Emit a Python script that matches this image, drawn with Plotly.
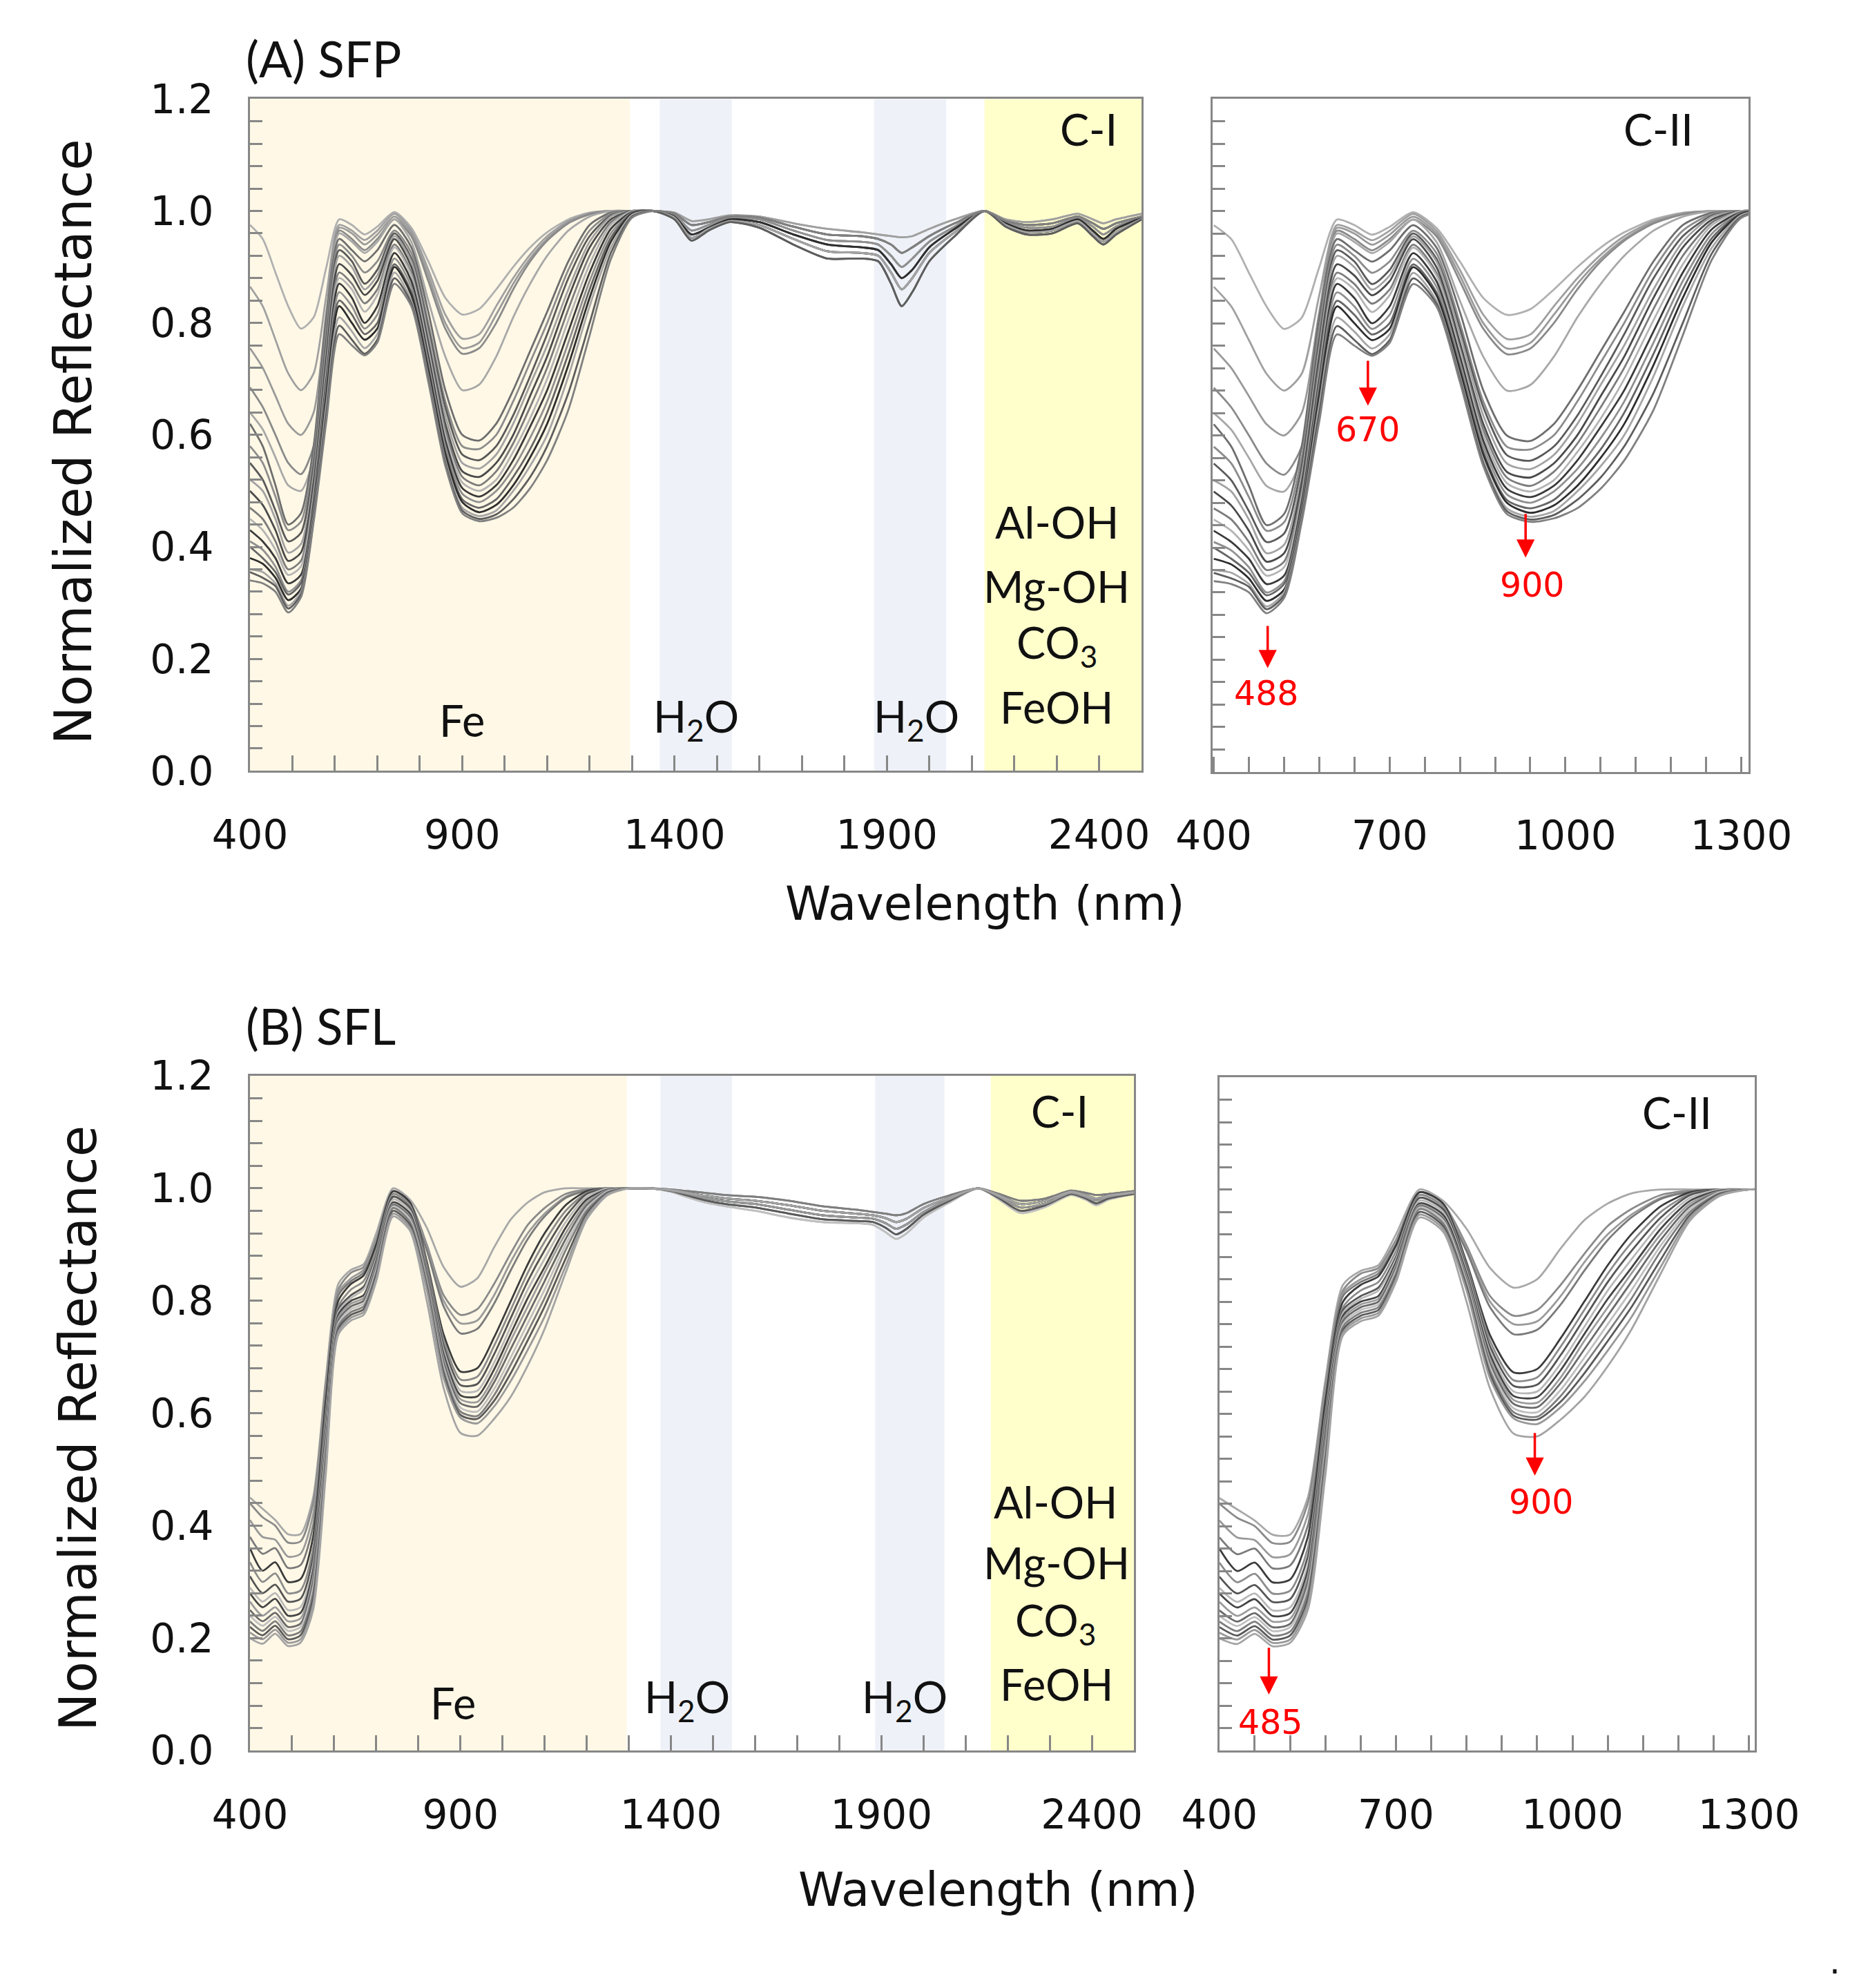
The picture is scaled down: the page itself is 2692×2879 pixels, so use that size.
import plotly.graph_objects as go

wl_vnir = [400, 430, 460, 490, 520, 550, 580, 610, 640, 670, 700, 740, 780,
           820, 860, 900, 940, 980, 1020, 1060, 1100, 1150, 1200, 1250, 1300]
wl_swir = [1350, 1400, 1440, 1480, 1530, 1600, 1680, 1760, 1840, 1880, 1910,
           1935, 1960, 2000, 2060, 2130, 2180, 2230, 2290, 2350, 2385, 2410,
           2440, 2500]

# (A) SFP, 400-1300 nm part of each spectrum
sfp_01 = [.975, .95, .89, .83, .79, .81, .90, .985, .975, .958, .972, .998, .97, .91, .845, .815, .825, .86, .90, .935, .962, .985, .997, 1.0, 1.0]
sfp_02 = [.865, .83, .77, .71, .68, .71, .85, .975, .965, .948, .965, .995, .965, .895, .815, .772, .78, .83, .88, .922, .955, .982, .996, 1.0, 1.0]
sfp_03 = [.755, .72, .67, .62, .60, .64, .82, .97, .96, .94, .958, .99, .96, .885, .80, .755, .765, .815, .87, .915, .95, .98, .995, 1.0, 1.0]
sfp_04 = [.685, .65, .60, .55, .53, .58, .79, .965, .95, .93, .95, .985, .955, .875, .79, .745, .755, .80, .86, .91, .947, .978, .994, 1.0, 1.0]
sfp_05 = [.64, .61, .56, .51, .50, .56, .78, .96, .945, .925, .945, .985, .945, .84, .74, .68, .69, .74, .81, .87, .92, .965, .99, 1.0, 1.0]
sfp_06 = [.62, .58, .51, .44, .46, .58, .81, .95, .93, .91, .93, .975, .935, .82, .68, .60, .59, .62, .68, .75, .82, .91, .975, .997, 1.0]
sfp_07 = [.58, .55, .49, .43, .445, .56, .79, .94, .92, .89, .91, .965, .925, .80, .66, .58, .575, .60, .66, .73, .80, .895, .965, .995, 1.0]
sfp_08 = [.55, .52, .465, .41, .425, .545, .77, .93, .91, .87, .895, .96, .915, .79, .65, .565, .555, .58, .635, .705, .78, .88, .955, .992, 1.0]
sfp_09 = [.52, .50, .45, .39, .405, .53, .755, .92, .90, .86, .885, .955, .91, .78, .635, .55, .54, .565, .62, .69, .76, .86, .945, .99, 1.0]
sfp_10 = [.50, .475, .43, .375, .39, .515, .74, .905, .885, .85, .875, .95, .90, .765, .62, .535, .525, .55, .60, .67, .74, .845, .935, .985, 1.0]
sfp_11 = [.47, .45, .41, .36, .375, .50, .725, .89, .87, .835, .86, .94, .89, .755, .61, .525, .51, .535, .585, .65, .72, .825, .92, .98, 1.0]
sfp_12 = [.45, .43, .395, .35, .365, .49, .71, .88, .86, .82, .85, .935, .885, .75, .60, .515, .50, .52, .57, .63, .70, .805, .905, .975, 1.0]
sfp_13 = [.43, .41, .38, .335, .35, .48, .70, .87, .845, .80, .83, .925, .875, .74, .59, .505, .49, .51, .555, .615, .68, .785, .89, .968, .998]
sfp_14 = [.41, .395, .365, .32, .34, .47, .69, .855, .83, .79, .815, .915, .865, .73, .58, .495, .48, .50, .54, .595, .66, .765, .875, .96, .997]
sfp_15 = [.40, .38, .355, .315, .335, .465, .68, .84, .815, .78, .80, .905, .855, .72, .57, .485, .47, .485, .525, .575, .64, .745, .86, .952, .996]
sfp_16 = [.38, .37, .345, .305, .325, .46, .67, .83, .80, .77, .79, .90, .85, .715, .565, .48, .462, .475, .51, .56, .62, .725, .845, .945, .995]
sfp_17 = [.36, .355, .335, .295, .32, .455, .655, .81, .785, .755, .78, .89, .84, .705, .555, .47, .455, .465, .50, .545, .60, .705, .83, .935, .993]
sfp_18 = [.355, .345, .33, .29, .315, .45, .64, .795, .77, .745, .77, .88, .835, .70, .55, .465, .45, .458, .485, .525, .58, .675, .80, .925, .99]
sfp_19 = [.34, .335, .32, .283, .31, .445, .625, .78, .76, .742, .765, .87, .83, .695, .545, .46, .446, .452, .47, .505, .555, .645, .778, .914, .988]

# (A) SFP, 1350-2500 nm shapes (the SWIR part is tightly bunched)
sfp_swir_1 = [1.0, .997, .982, .985, .992, .99, .978, .968, .962, .958, .955, .953, .955, .968, .985, 1.0, .985, .98, .985, .995, .985, .978, .985, .995]
sfp_swir_2 = [1.0, .995, .975, .98, .99, .988, .972, .958, .955, .95, .94, .925, .935, .955, .978, 1.0, .982, .975, .978, .99, .978, .968, .978, .99]
sfp_swir_3 = [1.0, .993, .965, .975, .988, .985, .965, .948, .945, .94, .92, .90, .915, .945, .972, 1.0, .98, .97, .972, .988, .972, .958, .972, .99]
sfp_swir_4 = [1.0, .99, .958, .97, .985, .98, .958, .94, .935, .93, .905, .88, .895, .935, .968, 1.0, .978, .965, .968, .985, .965, .95, .968, .988]
sfp_swir_5 = [1.0, .988, .952, .968, .982, .975, .95, .928, .925, .92, .89, .86, .88, .925, .962, 1.0, .975, .962, .965, .982, .96, .945, .962, .986]
sfp_swir_6 = [1.0, .985, .947, .965, .98, .97, .94, .915, .915, .91, .87, .83, .855, .91, .955, 1.0, .972, .958, .96, .978, .955, .94, .958, .985]

# (B) SFL, 400-1300 nm part of each spectrum
sfl_01 = [.45, .43, .41, .385, .385, .45, .66, .83, .855, .865, .92, 1.0, .98, .93, .86, .825, .84, .895, .945, .975, .993, 1.0, 1.0, 1.0, 1.0]
sfl_02 = [.44, .415, .40, .37, .372, .44, .65, .82, .85, .86, .91, .995, .975, .90, .81, .775, .785, .83, .885, .935, .965, .99, .998, 1.0, 1.0]
sfl_03 = [.41, .38, .375, .345, .35, .42, .64, .815, .84, .855, .905, .99, .97, .895, .80, .76, .765, .81, .87, .92, .955, .985, .997, 1.0, 1.0]
sfl_04 = [.38, .35, .36, .325, .33, .40, .63, .81, .835, .85, .90, .985, .965, .89, .79, .742, .75, .795, .855, .91, .95, .983, .996, 1.0, 1.0]
sfl_05 = [.36, .32, .335, .30, .305, .38, .62, .80, .83, .845, .90, .995, .975, .87, .74, .674, .68, .735, .80, .865, .92, .97, .995, 1.0, 1.0]
sfl_06 = [.335, .30, .315, .28, .285, .36, .60, .79, .82, .835, .89, .99, .97, .865, .73, .66, .665, .72, .785, .85, .905, .96, .992, 1.0, 1.0]
sfl_07 = [.31, .28, .295, .265, .27, .345, .585, .785, .81, .825, .88, .985, .965, .86, .72, .65, .652, .705, .77, .835, .89, .95, .99, 1.0, 1.0]
sfl_08 = [.29, .265, .28, .25, .255, .33, .575, .78, .805, .82, .875, .98, .96, .855, .712, .64, .64, .69, .755, .82, .875, .94, .985, 1.0, 1.0]
sfl_09 = [.28, .255, .27, .24, .245, .32, .565, .775, .80, .81, .87, .975, .955, .85, .705, .632, .63, .678, .742, .805, .86, .93, .98, .998, 1.0]
sfl_10 = [.265, .24, .255, .23, .235, .31, .555, .77, .795, .805, .865, .972, .95, .845, .698, .625, .62, .665, .73, .79, .85, .92, .975, .997, 1.0]
sfl_11 = [.25, .23, .245, .22, .226, .30, .545, .765, .79, .80, .86, .97, .948, .84, .69, .618, .612, .655, .715, .775, .835, .91, .97, .996, 1.0]
sfl_12 = [.24, .222, .238, .213, .22, .29, .535, .76, .785, .795, .855, .968, .945, .835, .683, .61, .603, .643, .70, .76, .82, .90, .965, .995, 1.0]
sfl_13 = [.23, .213, .23, .205, .212, .28, .525, .755, .78, .79, .85, .965, .94, .83, .676, .603, .595, .632, .687, .745, .805, .89, .96, .993, 1.0]
sfl_14 = [.22, .205, .222, .198, .205, .27, .515, .75, .775, .785, .845, .96, .935, .825, .67, .597, .59, .622, .672, .73, .79, .875, .955, .992, 1.0]
sfl_15 = [.21, .198, .215, .192, .198, .26, .505, .745, .77, .78, .84, .955, .93, .82, .663, .592, .582, .612, .658, .713, .772, .862, .95, .99, 1.0]
sfl_16 = [.20, .19, .208, .186, .192, .25, .49, .74, .765, .775, .835, .95, .925, .80, .645, .565, .56, .59, .63, .685, .75, .85, .945, .988, 1.0]

# (B) SFL, 1350-2500 nm shapes
sfl_swir_1 = [1.0, .998, .995, .992, .988, .985, .978, .968, .962, .958, .955, .952, .956, .972, .987, 1.0, .99, .978, .982, .996, .992, .988, .99, .995]
sfl_swir_2 = [1.0, .997, .992, .987, .982, .978, .97, .96, .955, .952, .947, .94, .946, .965, .983, 1.0, .987, .972, .978, .994, .988, .982, .987, .993]
sfl_swir_3 = [1.0, .996, .99, .983, .977, .972, .962, .952, .948, .946, .938, .928, .936, .958, .98, 1.0, .985, .966, .973, .992, .985, .978, .985, .992]
sfl_swir_4 = [1.0, .995, .987, .979, .972, .966, .955, .945, .942, .94, .93, .918, .928, .953, .977, 1.0, .982, .96, .97, .99, .982, .973, .982, .99]
sfl_swir_5 = [1.0, .994, .984, .975, .968, .96, .948, .94, .938, .935, .922, .91, .92, .948, .974, 1.0, .98, .956, .967, .988, .98, .97, .98, .99]

sfp_curves = [
    (sfp_01, sfp_swir_1), (sfp_02, sfp_swir_1), (sfp_03, sfp_swir_2),
    (sfp_04, sfp_swir_2), (sfp_05, sfp_swir_3), (sfp_06, sfp_swir_2),
    (sfp_07, sfp_swir_3), (sfp_08, sfp_swir_4), (sfp_09, sfp_swir_3),
    (sfp_10, sfp_swir_5), (sfp_11, sfp_swir_4), (sfp_12, sfp_swir_6),
    (sfp_13, sfp_swir_5), (sfp_14, sfp_swir_3), (sfp_15, sfp_swir_6),
    (sfp_16, sfp_swir_4), (sfp_17, sfp_swir_5), (sfp_18, sfp_swir_6),
    (sfp_19, sfp_swir_2),
]
sfl_curves = [
    (sfl_01, sfl_swir_1), (sfl_02, sfl_swir_2), (sfl_03, sfl_swir_1),
    (sfl_04, sfl_swir_3), (sfl_05, sfl_swir_2), (sfl_06, sfl_swir_4),
    (sfl_07, sfl_swir_3), (sfl_08, sfl_swir_5), (sfl_09, sfl_swir_2),
    (sfl_10, sfl_swir_4), (sfl_11, sfl_swir_3), (sfl_12, sfl_swir_5),
    (sfl_13, sfl_swir_1), (sfl_14, sfl_swir_4), (sfl_15, sfl_swir_3),
    (sfl_16, sfl_swir_2),
]

main_ticks = [400, 900, 1400, 1900, 2400]
zoom_ticks = [400, 700, 1000, 1300]
refl_ticks = [0.0, 0.2, 0.4, 0.6, 0.8, 1.0, 1.2]

# absorption regions shaded on the full-range panels (nm)
sfp_bands = [(400, 1295, "#fff8e6"), (1365, 1535, "#eef2f8"),
             (1870, 2040, "#eef2f8"), (2130, 2500, "#ffffcc")]
sfl_bands = [(400, 1295, "#fff8e6"), (1375, 1545, "#eef2f8"),
             (1885, 2050, "#eef2f8"), (2160, 2500, "#ffffcc")]

greys_a = ["#b0b0b0", "#a0a0a0", "#9a9a9a", "#8a8a8a", "#a8a8a8", "#6e6e6e",
           "#8c8c8c", "#5a5a5a", "#a2a2a2", "#4a4a4a", "#7c7c7c", "#b4b4b4",
           "#3a3a3a", "#909090", "#666666", "#2e2e2e", "#a6a6a6", "#5e5e5e",
           "#808080"]
greys_b = ["#a8a8a8", "#8a8a8a", "#9a9a9a", "#7a7a7a", "#3c3c3c", "#8c8c8c",
           "#555555", "#b8b8b8", "#444444", "#9c9c9c", "#6a6a6a", "#c0c0c0",
           "#7e7e7e", "#5a5a5a", "#999999", "#a4a4a4"]

AXIS_GREY = "#878787"
TICK_FONT = dict(family="DejaVu Sans", size=58, color="#111111")
LABEL_FONT = dict(family="Lato", size=63, color="#111111")
RED = "#ff0000"

wl_all = wl_vnir + wl_swir

fig = go.Figure()


def add_spectra(curves, greys, pairs):
    for k, (vnir, swir) in enumerate(curves):
        for xa, ya in pairs:
            fig.add_trace(go.Scatter(
                x=wl_all, y=vnir + swir, xaxis=xa, yaxis=ya, mode="lines",
                line=dict(color=greys[k], width=2.8, shape="spline", smoothing=0.7),
                hoverinfo="skip", showlegend=False))


add_spectra(sfp_curves, greys_a, [("x", "y"), ("x2", "y2")])
add_spectra(sfl_curves, greys_b, [("x3", "y3"), ("x4", "y4")])

shapes = []
for bands, xr, yr in ((sfp_bands, "x", "y"), (sfl_bands, "x3", "y3")):
    for lo, hi, col in bands:
        shapes.append(dict(type="rect", xref=xr, yref=yr, x0=lo, x1=hi, y0=0, y1=1.2,
                           fillcolor=col, line=dict(width=0), layer="below"))


def x_axis(domain, rng, ticks, minor_step, anchor):
    return dict(domain=domain, range=rng, anchor=anchor, automargin=False,
                tickmode="array", tickvals=ticks, ticktext=[str(t) for t in ticks],
                ticks="inside", ticklen=22, tickwidth=2.5, tickcolor=AXIS_GREY,
                minor=dict(tickmode="linear", tick0=400, dtick=minor_step, ticks="inside",
                           ticklen=22, tickwidth=2.5, tickcolor=AXIS_GREY),
                showline=True, linecolor=AXIS_GREY, linewidth=3, mirror=True,
                showgrid=False, zeroline=False, tickfont=TICK_FONT,
                ticklabelstandoff=40)


def y_axis(domain, anchor, labels=True):
    return dict(domain=domain, range=[0, 1.2], anchor=anchor, automargin=False,
                tickmode="array", tickvals=refl_ticks,
                ticktext=[f"{t:.1f}" for t in refl_ticks], showticklabels=labels,
                ticks="inside", ticklen=18, tickwidth=2.5, tickcolor=AXIS_GREY,
                minor=dict(tickmode="linear", tick0=0, dtick=0.04, ticks="inside",
                           ticklen=18, tickwidth=2.5, tickcolor=AXIS_GREY),
                showline=True, linecolor=AXIS_GREY, linewidth=3, mirror=True,
                showgrid=False, zeroline=False, tickfont=TICK_FONT,
                ticklabelstandoff=38)


ann = []


def note(text, x, y, xref, yref, font=LABEL_FONT, **kw):
    kw.setdefault("xanchor", "center")
    ann.append(dict(text=text, x=x, y=y, xref=xref, yref=yref, showarrow=False,
                    yanchor="middle", font=font, **kw))


def red_arrow(x, y_tail, y_head, xref, yref):
    ann.append(dict(text="", x=x, y=y_head, ax=x, ay=y_tail, xref=xref, yref=yref,
                    axref=xref, ayref=yref, showarrow=True, arrowhead=2,
                    arrowsize=1.5, arrowwidth=3.5, arrowcolor=RED))


red_font = dict(family="DejaVu Sans", size=49, color=RED)

# panel (A)
note("Fe", 900, 0.091, "x", "y")
note("H<sub>2</sub>O", 1450, 0.093, "x", "y")
note("H<sub>2</sub>O", 1970, 0.093, "x", "y")
note("Al-OH", 2300, 0.445, "x", "y")
note("Mg-OH", 2300, 0.331, "x", "y")
note("CO<sub>3</sub>", 2300, 0.225, "x", "y")
note("FeOH", 2300, 0.115, "x", "y")
note("C-I", 2375, 1.147, "x", "y")
note("C-II", 1159, 1.147, "x2", "y2")
red_arrow(492, 0.262, 0.185, "x2", "y2")
note("488", 490, 0.14, "x2", "y2", font=red_font)
red_arrow(663, 0.735, 0.653, "x2", "y2")
note("670", 663, 0.61, "x2", "y2", font=red_font)
red_arrow(932, 0.462, 0.382, "x2", "y2")
note("900", 944, 0.333, "x2", "y2", font=red_font)

# panel (B)
note("Fe", 882, 0.086, "x3", "y3")
note("H<sub>2</sub>O", 1438, 0.091, "x3", "y3")
note("H<sub>2</sub>O", 1955, 0.091, "x3", "y3")
note("Al-OH", 2313, 0.443, "x3", "y3")
note("Mg-OH", 2316, 0.335, "x3", "y3")
note("CO<sub>3</sub>", 2313, 0.227, "x3", "y3")
note("FeOH", 2316, 0.119, "x3", "y3")
note("C-I", 2323, 1.138, "x3", "y3")
note("C-II", 1178, 1.138, "x4", "y4")
red_arrow(936, 0.568, 0.49, "x4", "y4")
note("900", 947, 0.443, "x4", "y4", font=red_font)
red_arrow(484, 0.185, 0.10, "x4", "y4")
note("485", 487, 0.05, "x4", "y4", font=red_font)

# titles and axis names
title_font = dict(family="Lato", size=71, color="#111111")
axis_font = dict(family="DejaVu Sans", size=67, color="#111111")
yname_font = dict(family="DejaVu Sans", size=74, color="#111111")
note("(A) SFP", 0.1285, 0.9735, "paper", "paper", font=title_font, xanchor="left")
note("(B) SFL", 0.1285, 0.4868, "paper", "paper", font=title_font, xanchor="left")
note("Normalized Reflectance", 0.0365, 0.7805, "paper", "paper", font=yname_font, textangle=-90)
note("Normalized Reflectance", 0.0390, 0.2845, "paper", "paper", font=yname_font, textangle=-90)
note("Wavelength (nm)", 0.527, 0.548, "paper", "paper", font=axis_font)
note("Wavelength (nm)", 0.534, 0.052, "paper", "paper", font=axis_font)
note(".", 0.984, 0.016, "paper", "paper", font=dict(family="DejaVu Sans", size=50, color="#111111"))

fig.update_layout(
    width=2692, height=2879, margin=dict(l=0, r=0, t=0, b=0, autoexpand=False),
    paper_bgcolor="white", plot_bgcolor="white", showlegend=False,
    xaxis=x_axis([0.1315, 0.6111], [400, 2500], main_ticks, 100, "y"),
    yaxis=y_axis([0.6150, 0.9530], "x"),
    xaxis2=x_axis([0.6493, 0.9375], [398, 1312], zoom_ticks, 60, "y2"),
    yaxis2=y_axis([0.6145, 0.9530], "x2", labels=False),
    xaxis3=x_axis([0.1315, 0.6070], [400, 2500], main_ticks, 100, "y3"),
    yaxis3=y_axis([0.1222, 0.4616], "x3"),
    xaxis4=x_axis([0.6530, 0.9410], [400, 1310], zoom_ticks, 60, "y4"),
    yaxis4=y_axis([0.1222, 0.4609], "x4", labels=False),
    shapes=shapes, annotations=ann,
)

fig.write_html("out.html")
